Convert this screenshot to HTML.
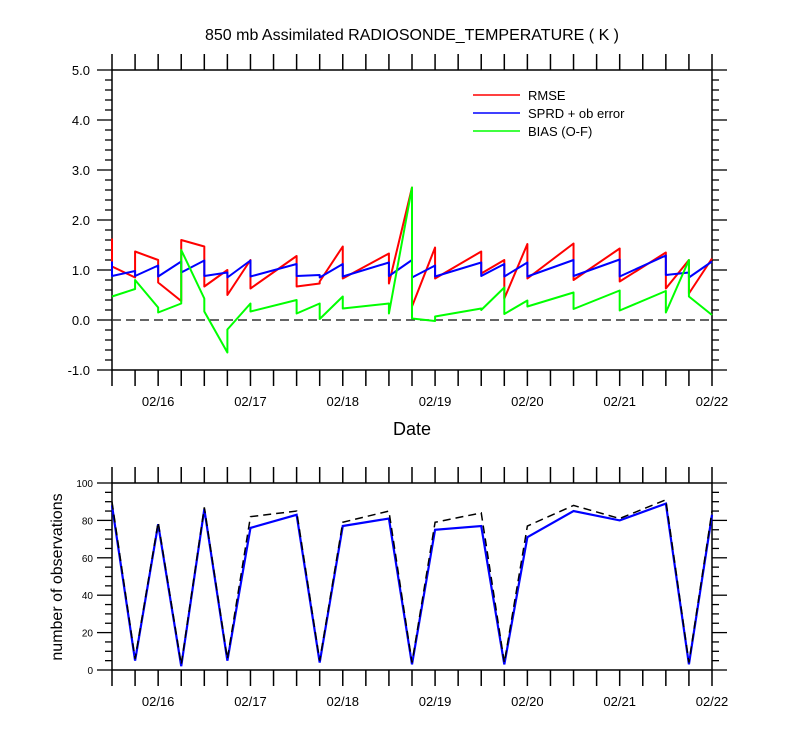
<!DOCTYPE html>
<html><head><meta charset="utf-8"><style>
body{margin:0;background:#fff;}
svg text{font-family:"Liberation Sans",sans-serif;fill:#000;}
</style></head><body>
<svg id="c" width="800" height="750" xmlns="http://www.w3.org/2000/svg"></svg>
<script>
const timeIdx=[0,1,2,3,4,5,6,8,9,10,12,13,14,16,17,18,20,22,24,25,26];
const rmsePri=[1.63,0.85,1.2,0.38,1.47,1.0,1.2,1.28,0.73,1.47,1.33,2.65,1.45,1.37,1.2,1.52,1.53,1.43,1.35,1.2,1.23];
const rmsePost=[1.07,1.37,0.75,1.6,0.67,0.5,0.63,0.67,0.77,0.83,0.73,0.27,0.83,0.93,0.43,0.83,0.8,0.77,0.63,0.53,1.23];
const sprdPri=[1.17,0.98,1.09,1.17,1.19,0.95,1.19,1.12,0.9,1.12,1.15,1.2,1.09,1.15,1.12,1.15,1.2,1.21,1.29,0.95,1.17];
const sprdPost=[0.88,0.88,0.87,0.95,0.88,0.85,0.87,0.88,0.85,0.87,0.88,0.85,0.87,0.88,0.87,0.87,0.88,0.87,0.9,0.85,1.17];
const biasPri=[0.47,0.62,0.25,0.33,0.43,-0.65,0.33,0.4,0.33,0.47,0.33,2.65,-0.02,0.23,0.65,0.39,0.55,0.59,0.58,1.2,0.1];
const biasPost=[0.47,0.8,0.15,1.4,0.17,-0.19,0.17,0.13,0.02,0.23,0.13,0.03,0.07,0.2,0.12,0.27,0.22,0.19,0.15,0.47,0.1];
const obsPossible=[90,6,79,3,87,6,82,85,5,79,85,4,79,84,4,77,88,81,91,4,85];
const obsUsed=[88,5,78,2,86,5,76,83,4,77,81,3,75,77,3,71,85,80,89,3,83];
const dateLabels=["02/16","02/17","02/18","02/19","02/20","02/21","02/22"];
const yTicksTop=[-1,0,1,2,3,4,5];
const yTicksBot=[0,20,40,60,80,100];

const NS="http://www.w3.org/2000/svg";
const svg=document.getElementById('c');
function mk(tag,attrs,parent){const e=document.createElementNS(NS,tag);for(const k in attrs)e.setAttribute(k,attrs[k]);(parent||svg).appendChild(e);return e;}
const X0=112,X1=712;
const xS=i=>X0+(X1-X0)*i/26;
const yT=v=>320-50*v;
const yB=v=>670-1.87*v;

// title
let t=mk('text',{x:412,y:40,'text-anchor':'middle','font-size':16});
t.textContent='850 mb Assimilated RADIOSONDE_TEMPERATURE ( K )';



function frame(top,bot,name){
  const r=mk('rect',{x:X0,y:top,width:X1-X0,height:bot-top,fill:'none',stroke:'#000','stroke-width':1.5});
  
  
  for(let i=0;i<=26;i++){
    const x=xS(i);
    const l1=mk('line',{x1:x,x2:x,y1:top,y2:top-16,stroke:'#000','stroke-width':1.5});
    
    
    const l2=mk('line',{x1:x,x2:x,y1:bot,y2:bot+16,stroke:'#000','stroke-width':1.5});
    
    
  }
  dateLabels.forEach((d,k)=>{
    const tx=mk('text',{x:xS(2+4*k),y:bot+36,'text-anchor':'middle','font-size':13});
    tx.textContent=d;
    
    
  });
}
frame(70,370,'top-plot-frame');
frame(483,670,'bottom-plot-frame');

// top y ticks
for(let v=-1;v<=5.001;v+=0.2){
  const major=Math.abs(v-Math.round(v))<0.01;
  const y=yT(v);
  const len=major?15:7;
  const a=mk('line',{x1:X0,x2:X0-len,y1:y,y2:y,stroke:'#000','stroke-width':1.3});
  
  
  const b=mk('line',{x1:X1,x2:X1+len,y1:y,y2:y,stroke:'#000','stroke-width':1.3});
  
  
}
yTicksTop.forEach(v=>{
  const tx=mk('text',{x:90,y:yT(v)+5,'text-anchor':'end','font-size':13});
  tx.textContent=v.toFixed(1);
  
  
});
// bottom y ticks
for(let v=0;v<=100;v+=5){
  const major=v%20===0;
  const y=yB(v);
  const len=major?15:7;
  const a=mk('line',{x1:X0,x2:X0-len,y1:y,y2:y,stroke:'#000','stroke-width':1.3});
  
  
  const b=mk('line',{x1:X1,x2:X1+len,y1:y,y2:y,stroke:'#000','stroke-width':1.3});
  
  
}
yTicksBot.forEach(v=>{
  const tx=mk('text',{x:93,y:yB(v)+4,'text-anchor':'end','font-size':10});
  tx.textContent=v;
  
  
});

// zero line
const z=mk('line',{x1:X0,x2:X1,y1:yT(0),y2:yT(0),stroke:'#333','stroke-width':1.5,'stroke-dasharray':'9,5'});



function saw(pri,post,color,name){
  let d='';
  timeIdx.forEach((ti,k)=>{const x=xS(ti);d+=(k?'L':'M')+x+','+yT(pri[k])+'L'+x+','+yT(post[k]);});
  const p=mk('path',{d:d,fill:'none',stroke:color,'stroke-width':2,'stroke-linejoin':'round'});
  
  
}
saw(rmsePri,rmsePost,'#ff0000','rmse-line');
saw(sprdPri,sprdPost,'#0000ff','sprd-line');
saw(biasPri,biasPost,'#00ff00','bias-line');

// legend
[['RMSE','#ff0000'],['SPRD + ob error','#0000ff'],['BIAS (O-F)','#00ff00']].forEach((e,k)=>{
  const y=95+18*k;
  const l=mk('line',{x1:473,x2:520,y1:y,y2:y,stroke:e[1],'stroke-width':1.5});
  
  
  const tx=mk('text',{x:528,y:y+5,'font-size':13});
  tx.textContent=e[0];
  
  
});

// x title
t=mk('text',{x:412,y:435,'text-anchor':'middle','font-size':18});
t.textContent='Date';


t=mk('text',{x:0,y:0,'text-anchor':'middle','font-size':16,transform:'translate(62,577) rotate(-90)'});
t.textContent='number of observations';



function obsLine(vals,color,dash,name,w){
  let d='';
  timeIdx.forEach((ti,k)=>{d+=(k?'L':'M')+xS(ti)+','+yB(vals[k]);});
  const p=mk('path',{d:d,fill:'none',stroke:color,'stroke-width':w,'stroke-dasharray':dash});
  
  
}
obsLine(obsUsed,'#0000ff','none','obs-used-line',2.2);
obsLine(obsPossible,'#000','8,5','obs-possible-line',1.5);
</script>
</body></html>
